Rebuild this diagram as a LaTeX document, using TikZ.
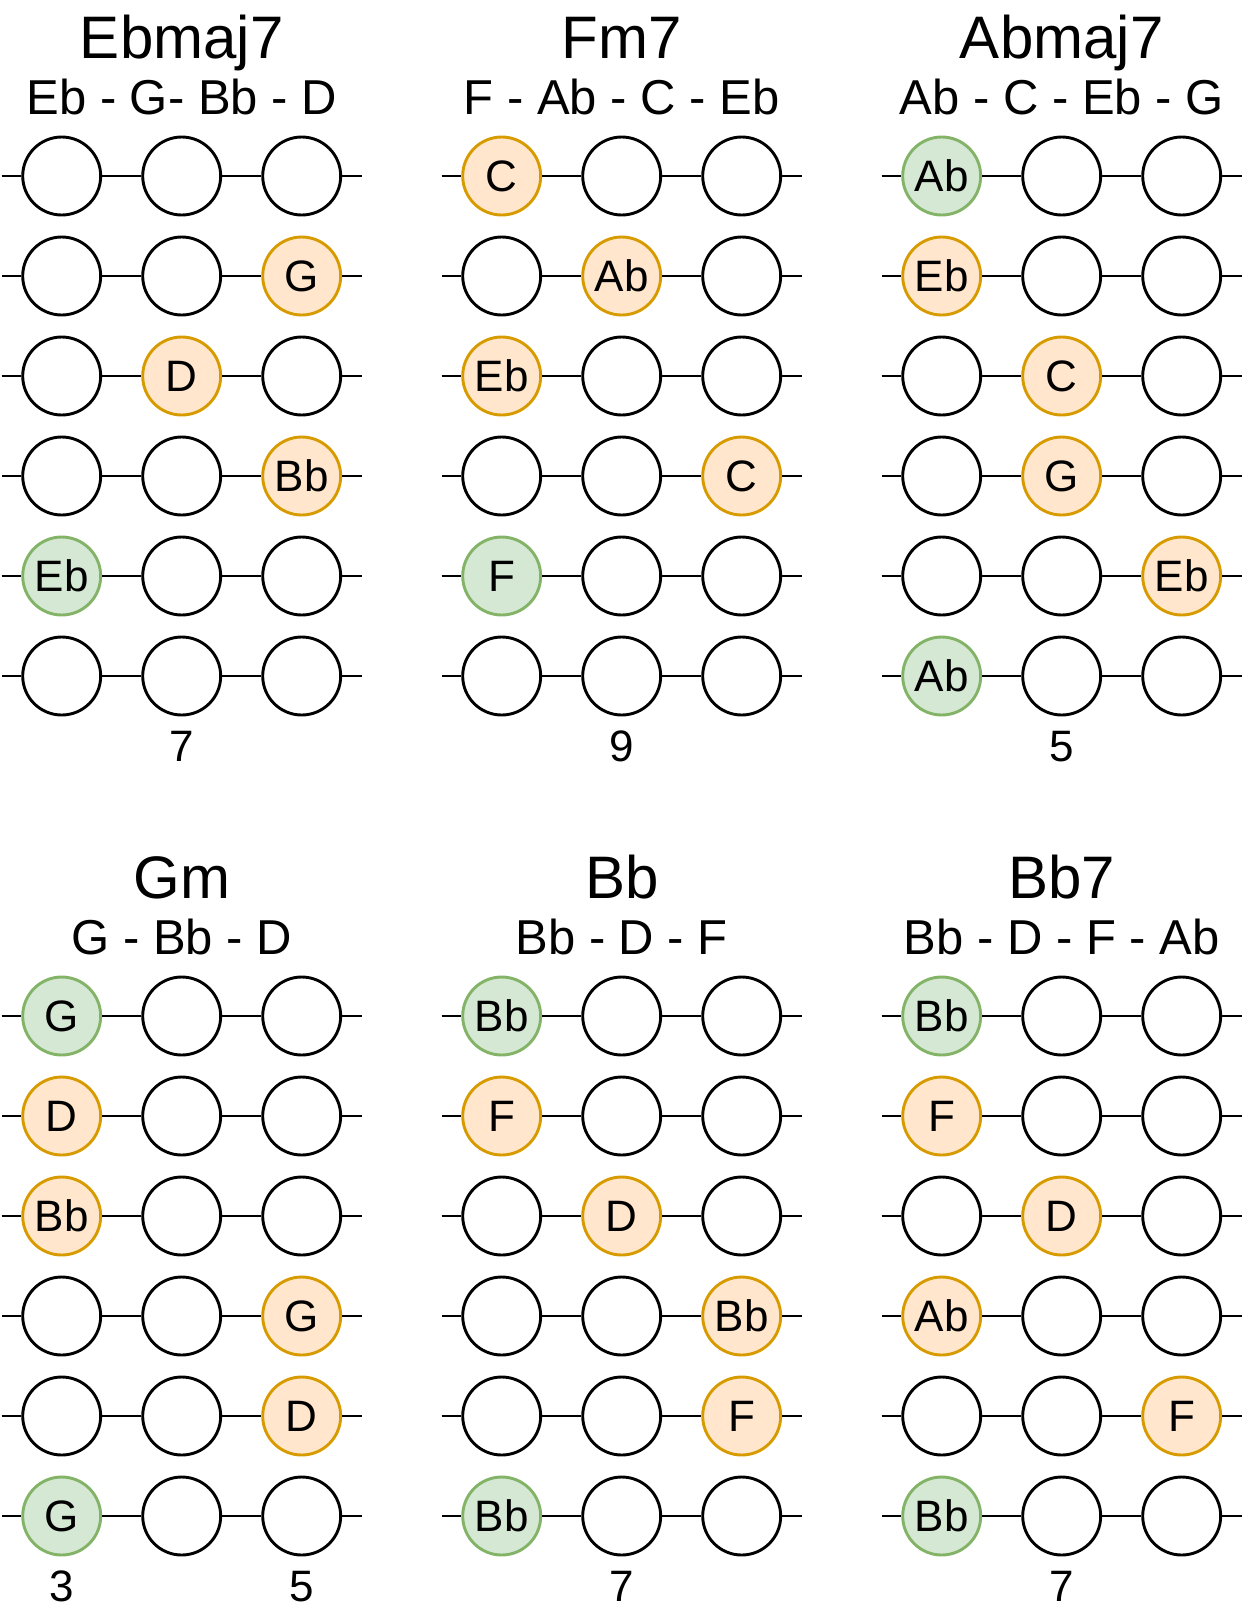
\documentclass[tikz,border=0pt]{standalone}
\usepackage{fontspec}
\setmainfont{Liberation Sans}
\definecolor{notefill}{HTML}{FFE6CC}
\definecolor{noteline}{HTML}{D79B00}
\definecolor{rootfill}{HTML}{D5E8D4}
\definecolor{rootline}{HTML}{82B366}

\begin{document}
\begin{tikzpicture}[x=0.5pt, y=-0.5pt,
    fret/.style={circle, draw, line width=1.45pt, fill=white, minimum size=39pt, inner sep=0pt, font=\fontsize{22}{26}\selectfont},
    em/.style={},
    nt/.style={draw=noteline, fill=notefill},
    rt/.style={draw=rootline, fill=rootfill},
    gstring/.style={line width=1.45pt},
    chordname/.style={anchor=base, font=\fontsize{30}{36}\selectfont},
    chordnotes/.style={anchor=base, font=\fontsize{24.5}{29}\selectfont},
    fretno/.style={anchor=base, font=\fontsize{22}{26}\selectfont}]
  \useasboundingbox (0,0) rectangle (1245,1613);

  % Chord boxes: id / first fret / name / notes / frets per string / fret numbers
  \foreach \id/\x/\y/\name/\notes/\cells/\nums in {
    A/61.7/176/Ebmaj7/{Eb - G- Bb - D}/{{em/,em/,em/},{em/,em/,nt/G},{em/,nt/D,em/},{em/,em/,nt/Bb},{rt/Eb,em/,em/},{em/,em/,em/}}/{2/7},
    B/501.7/176/Fm7/{F - Ab - C - Eb}/{{nt/C,em/,em/},{em/,nt/Ab,em/},{nt/Eb,em/,em/},{em/,em/,nt/C},{rt/F,em/,em/},{em/,em/,em/}}/{2/9},
    C/941.7/176/Abmaj7/{Ab - C - Eb - G}/{{rt/Ab,em/,em/},{nt/Eb,em/,em/},{em/,nt/C,em/},{em/,nt/G,em/},{em/,em/,nt/Eb},{rt/Ab,em/,em/}}/{2/5},
    D/61.7/1016/Gm/{G - Bb - D}/{{rt/G,em/,em/},{nt/D,em/,em/},{nt/Bb,em/,em/},{em/,em/,nt/G},{em/,em/,nt/D},{rt/G,em/,em/}}/{1/3,3/5},
    E/501.7/1016/Bb/{Bb - D - F}/{{rt/Bb,em/,em/},{nt/F,em/,em/},{em/,nt/D,em/},{em/,em/,nt/Bb},{em/,em/,nt/F},{rt/Bb,em/,em/}}/{2/7},
    F/941.7/1016/Bb7/{Bb - D - F - Ab}/{{rt/Bb,em/,em/},{nt/F,em/,em/},{em/,nt/D,em/},{nt/Ab,em/,em/},{em/,em/,nt/F},{rt/Bb,em/,em/}}/{2/7}%
  }{
    % strings, three frets each
    \foreach \row [count=\r] in \cells {
      \foreach \s/\t [count=\c] in \row
        \node[fret, \s] (\id-\r-\c) at ({\x+(\c-1)*120}, {\y+(\r-1)*100}) {\t};
      \coordinate (\id-\r-l) at ({\x-60}, {\y+(\r-1)*100});
      \coordinate (\id-\r-r) at ({\x+300.6}, {\y+(\r-1)*100});
      \draw[gstring] (\id-\r-l) -- (\id-\r-1) -- (\id-\r-2) -- (\id-\r-3) -- (\id-\r-r);
    }
    % name and notes on top, fret numbers below
    \node[chordname] (\id-name) at ([yshift=59pt]\id-1-2.center) {\name};
    \node[chordnotes] (\id-notes) at ([yshift=30.75pt]\id-1-2.center) {\notes};
    \foreach \c/\num in \nums
      \node[fretno] (\id-fret\c) at ([yshift=-42.5pt]\id-6-\c.center) {\num};
  }
\end{tikzpicture}
\end{document}
